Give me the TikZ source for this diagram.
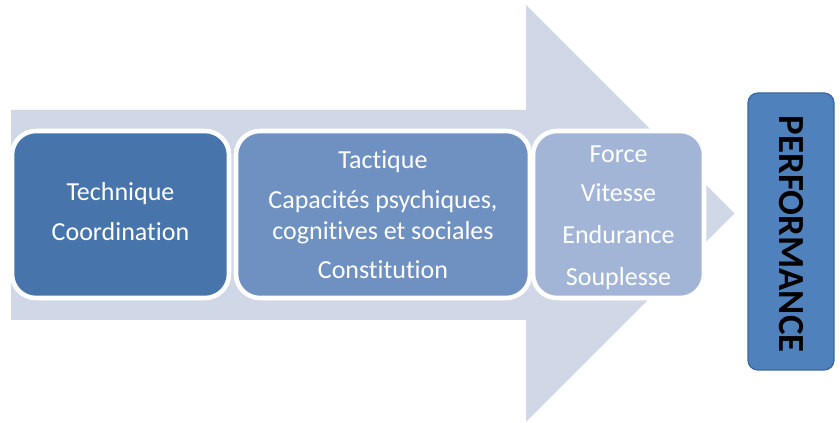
\documentclass[tikz,border=0pt]{standalone}
\usepackage{fontspec}
\setmainfont{Carlito}[Ligatures=NoCommon]
\definecolor{arrowfill}{RGB}{208,216,232}
\definecolor{stageA}{RGB}{70,116,171}
\definecolor{stageB}{RGB}{111,145,193}
\definecolor{stageC}{RGB}{163,181,215}
\definecolor{perffill}{RGB}{79,129,189}
\definecolor{perfline}{RGB}{60,105,160}
\begin{document}
\begin{tikzpicture}[x=0.75pt,y=-0.75pt,
  stage/.style={draw=white, line width=3.4pt, rounded corners=18pt,
    inner sep=0pt, minimum height=125.25pt},
  stagetext/.style={text=white, align=center, inner sep=0pt,
    font=\fontsize{19.5}{23.5}\selectfont},
  perfbox/.style={draw=perfline, line width=1pt, fill=perffill,
    rounded corners=7.5pt, rotate=-90, inner sep=0pt,
    minimum width=207.75pt, minimum height=64.5pt},
  perftext/.style={rotate=-90, inner sep=0pt,
    font=\fontsize{27.6}{32}\selectfont\bfseries, text=black}]
\useasboundingbox (0,0) rectangle (840,423);

% broad background arrow
\fill[arrowfill] (11,110) -- (526,110) -- (526,5) -- (734.5,213.5)
  -- (526,422) -- (526,320) -- (11,320) -- cycle;

% the three stages
\node[stage, fill=stageA, minimum width=162.75pt] (tech) at (120.5,214.5) {};
\node[stage, fill=stageB, minimum width=220.5pt] (tact) at (383,214.5) {};
\node[stage, fill=stageC, minimum width=128.25pt] (phys) at (618.5,214.5) {};

\node[stagetext] (techtxt) at ([yshift=2.2pt]tech.center)
  {Technique\\[7pt]Coordination};
\node[stagetext] (tacttxt) at (tact.center)
  {Tactique\\[6.5pt]Capacités psychiques,\\cognitives et sociales\\[6pt]Constitution};
\node[stagetext] (phystxt) at ([yshift=-2.4pt]phys.center)
  {Force\\[6pt]Vitesse\\[8pt]Endurance\\[7.5pt]Souplesse};

% result
\node[perfbox] (perf) at (791,231.5) {};
\node[perftext] (perftxt) at ([yshift=-2pt]perf.center) {PERFORMANCE};
\end{tikzpicture}
\end{document}
